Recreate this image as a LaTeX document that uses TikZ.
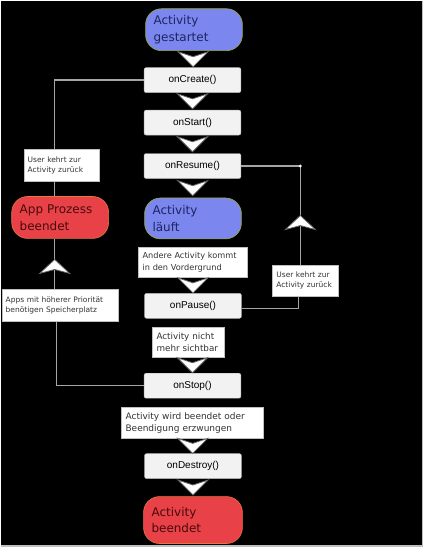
\documentclass[tikz,border=0pt]{standalone}
\usepackage{fontspec}
\setmainfont{DejaVu Sans}
\newfontfamily\arialfont{Liberation Sans}
\definecolor{stateblue}{RGB}{123,134,238}
\definecolor{statered}{RGB}{232,66,72}
\definecolor{bluetext}{RGB}{28,38,96}
\definecolor{redtext}{RGB}{70,10,12}
\definecolor{boxgray}{RGB}{242,242,242}
\definecolor{linegray}{RGB}{165,165,165}

\begin{document}
\begin{tikzpicture}[x=1pt, y=-1pt,
  method/.style={draw=gray!60, fill=boxgray, rounded corners=2pt, minimum width=97pt,
    minimum height=25pt, inner sep=0pt, font=\arialfont\fontsize{10}{12}\selectfont},
  state/.style={rounded corners=16pt, minimum width=97pt, minimum height=42pt, text width=81pt,
    inner xsep=8pt, align=left, line width=0.6pt, font=\fontsize{12}{17}\selectfont},
  running/.style={state, fill=stateblue, draw={rgb,255:red,150;green,170;blue,60}, text=bluetext},
  stopped/.style={state, fill=statered, draw={rgb,255:red,230;green,120;blue,60}, text=redtext},
  note/.style={draw=gray!50, fill=white, inner xsep=4pt, inner ysep=0pt, align=left,
    text=black!80, font=\fontsize{7.5}{10}\selectfont},
  link/.style={draw=linegray, line width=1.3pt},
  chevron/.style={fill=white, draw=black!60, line width=0.8pt},
  chevdown/.pic={\filldraw[chevron] (-15,-7.5) -- (0,-2.5) -- (15,-7.5) -- (0,7.5) -- cycle;},
  chevup/.pic={\filldraw[chevron] (-15,7) -- (0,3) -- (15,7) -- (0,-7) -- cycle;}]
  \fill[black] (0,0) rectangle (423,547);
  \draw[gray!50, line width=1.5pt] (422.5,0) -- (422.5,546.2) -- (0,546.2);

  \node[running] (started) at (193.5,29) {Activity\\gestartet};
  \node[method] (oncreate) at (192,79.5) {onCreate()};
  \node[method] (onstart) at (192,122) {onStart()};
  \node[method] (onresume) at (192,165.5) {onResume()};
  \node[running, minimum height=41pt] (alive) at (192.5,218) {Activity\\läuft};
  \node[note, text width=101pt, minimum height=30pt, font=\fontsize{8.2}{12}\selectfont]
    (foreground) at (192.5,262) {Andere Activity kommt\\in den Vordergrund};
  \node[method] (onpause) at (192.5,305.5) {onPause()};
  \node[note, text width=64pt, minimum height=30pt, font=\fontsize{8.8}{12}\selectfont]
    (hidden) at (188,342) {Activity nicht\\mehr sichtbar};
  \node[method] (onstop) at (192,385.5) {onStop()};
  \node[note, text width=134pt, minimum height=31pt, font=\fontsize{9}{12}\selectfont]
    (finishing) at (192,422.5) {Activity wird beendet oder\\Beendigung erzwungen};
  \node[method] (ondestroy) at (192.5,466) {onDestroy()};
  \node[stopped, minimum width=99pt, text width=83pt, minimum height=47pt] (finished) at (192.5,520) {Activity\\beendet};

  \node[stopped] (appkilled) at (59.5,217) {App Prozess\\beendet};
  \node[note, text width=68pt, minimum height=32pt] (leftback) at (61,165) {User kehrt zur\\Activity zurück};
  \node[note, text width=109pt, minimum height=32pt] (memory) at (59.5,305) {Apps mit höherer Priorität\\benötigen Speicherplatz};
  \node[note, text width=58pt, minimum height=31pt] (rightback) at (305,280.5) {User kehrt zur\\Activity zurück};

  \path (started) -- (oncreate) pic[midway] {chevdown};
  \path (oncreate) -- (onstart) pic[midway] {chevdown};
  \path (onstart) -- (onresume) pic[midway] {chevdown};
  \path (onresume) -- (alive) pic[midway] {chevdown};
  \path (foreground) -- (onpause) pic[midway] {chevdown};
  \path (hidden.south -| onstop) -- (onstop) pic[midway] {chevdown};
  \path (finishing) -- (ondestroy) pic[midway] {chevdown};
  \path (ondestroy) -- (finished) pic[midway] {chevdown};

  \coordinate (ltop) at (54,79.5);
  \coordinate (lbottom) at (56,385.5);
  \draw[link] (oncreate.west) -- (ltop) -- (ltop |- leftback.north);
  \draw[link] (ltop |- leftback.south) -- (ltop |- appkilled.north);
  \draw[link] (ltop |- appkilled.south) -- (ltop |- memory.north) pic[pos=0.55] {chevup};
  \draw[link] (lbottom |- memory.south) -- (lbottom) -- (onstop.west);

  \coordinate (rtop) at (300,165.5);
  \coordinate (rbottom) at (298,308);
  \draw[link] (onresume.east) -- (rtop) -- (rtop |- rightback.north) pic[pos=0.57] {chevup};
  \draw[link] (rbottom |- rightback.south) -- (rbottom) -- (onpause.east |- rbottom);
  \fill[white] (rtop) circle (1.6);
\end{tikzpicture}
\end{document}
